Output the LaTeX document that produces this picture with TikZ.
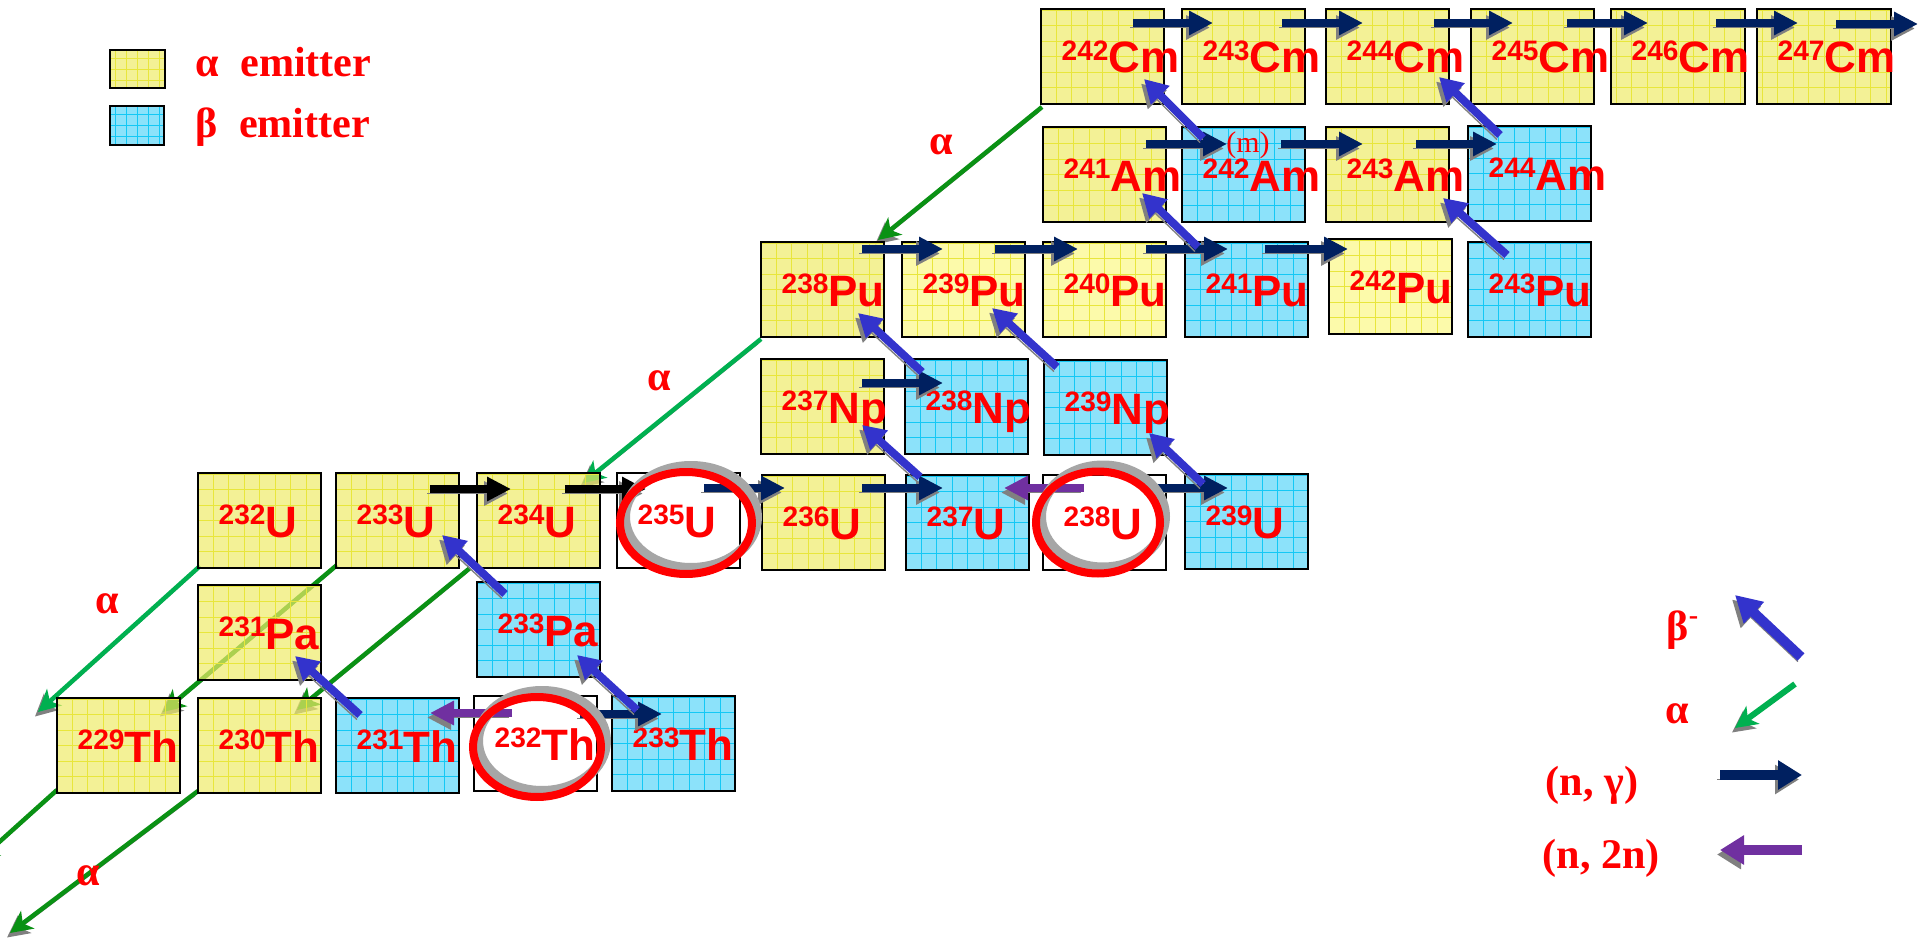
\documentclass[tikz,border=0pt]{standalone}
\usepackage{fontspec}
\setmainfont{Liberation Serif}
\newfontfamily\arialfont{Liberation Sans}
\usetikzlibrary{arrows.meta,calc,backgrounds}

\definecolor{isored}{RGB}{255,0,0}
\definecolor{yelfill}{RGB}{238,235,105}
\definecolor{lyelfill}{RGB}{251,248,134}
\definecolor{bluefill}{RGB}{91,214,248}
\definecolor{gridyel}{RGB}{232,230,60}
\definecolor{gridblue}{RGB}{20,200,245}
\definecolor{navy}{RGB}{0,32,96}
\definecolor{betablue}{RGB}{51,51,204}
\definecolor{purp}{RGB}{112,48,160}
\definecolor{lgreen}{RGB}{0,176,80}
\definecolor{dgreen}{RGB}{10,145,20}

% mass number raised in front of the element symbol
\newcommand{\nuc}[2]{\raisebox{3.6pt}{\fontsize{8}{8}\selectfont#1}#2}

\begin{document}
\begin{tikzpicture}[x=0.1mm,y=-0.1mm,
  box/.style={draw=black,line width=0.45pt,minimum width=12.3mm,minimum height=9.5mm,inner sep=0pt,outer sep=0pt,anchor=north west},
  gridded/.style 2 args={path picture={\draw[#1,line width=0.25pt] (path picture bounding box.south west) grid[step=#2] (path picture bounding box.north east);}},
  ybox/.style={box,fill=yelfill,fill opacity=0.7,gridded={gridyel}{#1}},ybox/.default=1.55mm,
  lybox/.style={box,fill=lyelfill,fill opacity=0.7,gridded={gridyel}{1.55mm}},
  bbox/.style={box,fill=bluefill,fill opacity=0.7,gridded={gridblue}{#1}},bbox/.default=1.55mm,
  wbox/.style={box,fill=white},
  iso/.style={text=isored,font=\arialfont\bfseries\fontsize{12.5}{12.5}\selectfont,inner sep=0pt,anchor=base west},
  lab/.style={text=isored,font=\bfseries\fontsize{12}{12}\selectfont,inner sep=0pt},
  shad/.style={preaction={draw=black!50,transform canvas={xshift=-0.3mm,yshift=-0.45mm}}},
  ngam/.style={shad,draw=navy,line width=0.8mm,-{Triangle[length=2.4mm,width=2.3mm]}},
  ntwo/.style={shad,draw=purp,line width=0.8mm,-{Triangle[length=2.4mm,width=2.3mm]}},
  beta/.style={shad,draw=betablue,line width=0.8mm,-{Triangle[length=2.3mm,width=2.5mm]}},
  alph/.style={shad,line width=0.45mm,-{Stealth[length=2.2mm,width=2.2mm,inset=0.6mm]}},
  ring/.style={draw=isored,line width=0.8mm,preaction={draw=black!35,line width=1mm,transform canvas={xshift=0.5mm,yshift=0.6mm}}}]
\useasboundingbox (0,0) rectangle (1925,943);

% nuclide boxes
\foreach \n/\l/\t/\m/\s in {cm242/1041/9/242/Cm,cm243/1182/9/243/Cm,cm244/1326/9/244/Cm,cm245/1471/9/245/Cm,
    am241/1043/127/241/Am,am243/1326/127/243/Am,pu238/761/242/238/Pu,np237/761/359/237/Np,
    u232/198/473/232/U,u233/336/473/233/U,u234/477/473/234/U,u236/762/475/236/U,
    pa231/198/585/231/Pa,th229/57/698/229/Th,th230/198/698/230/Th}{
  \node[ybox] (\n) at (\l,\t) {};
  \node[iso] (\n-l) at ($(\n.north west)+(20,64)$) {\nuc{\m}{\s}};
}
\foreach \n/\l/\t/\m/\s in {cm246/1611/9/246/Cm,cm247/1757/9/247/Cm}{
  \node[ybox,minimum width=13.4mm] (\n) at (\l,\t) {};
  \node[iso] (\n-l) at ($(\n.north west)+(20,64)$) {\nuc{\m}{\s}};
}
\foreach \n/\l/\t/\m/\s in {pu239/902/242/239/Pu,pu240/1043/242/240/Pu,pu242/1329/239/242/Pu}{
  \node[lybox] (\n) at (\l,\t) {};
  \node[iso] (\n-l) at ($(\n.north west)+(20,64)$) {\nuc{\m}{\s}};
}
\foreach \n/\l/\t/\m/\s in {am242/1182/127/242/Am,am244/1468/126/244/Am,pu241/1185/242/241/Pu,pu243/1468/242/243/Pu,
    np238/905/359/238/Np,np239/1044/360/239/Np,u237/906/475/237/U,u239/1185/474/239/U,
    pa233/477/582/233/Pa,th231/336/698/231/Th,th233/612/696/233/Th}{
  \node[bbox] (\n) at (\l,\t) {};
  \node[iso] (\n-l) at ($(\n.north west)+(20,64)$) {\nuc{\m}{\s}};
}
\foreach \n/\l/\t/\m/\s in {u235/617/473/235/U,u238/1043/475/238/U,th232/474/696/232/Th}{
  \node[wbox] (\n) at (\l,\t) {};
  \node[iso] (\n-l) at ($(\n.north west)+(20,64)$) {\nuc{\m}{\s}};
}

% alpha decays, behind the boxes
\coordinate (th228) at (38,712);
\coordinate (ra225) at (-23,862);
\coordinate (ra226) at (10,933);
\begin{pgfonlayer}{background}
  \draw[alph,dgreen] ($(cm242.south west)+(1,3)$) -- ($(pu238.north east)+(-6,-2)$);
  \draw[alph,lgreen] ($(pu238.south west)+(0,2)$) -- ($(u234.north east)+(-17,10)$);
  \draw[alph,lgreen] ($(u232.south west)+(2,-2)$) -- (th228);
  \draw[alph,dgreen] ($(u233.south west)+(1,-3)$) -- ($(th229.north east)+(-17,14)$);
  \draw[alph,dgreen] ($(u234.south west)+(-7,0)$) -- ($(th230.north east)+(-24,12)$);
  \draw[alph,dgreen] ($(th229.south west)+(0,-3)$) -- (ra225);
  \draw[alph,dgreen] ($(th230.south west)+(0,-2)$) -- (ra226);
\end{pgfonlayer}
\node[lab] (al1) at (941,145) {α};
\node[lab] (al2) at (659,381) {α};
\node[lab] (al3) at (107,604) {α};
\node[lab] (al4) at (88,876) {α};

% (n,gamma)
\foreach \a/\b/\sx/\ex/\dy in {cm242/cm243/-31/31/14,cm243/cm244/-23/37/14,cm244/cm245/-15/42/14,
    cm245/cm246/-27/37/14,cm246/cm247/-29/41/14,am241/am242/-20/45/17,am242/am243/-24/37/17,
    am243/am244/-33/29/17,pu238/pu239/-22/41/7,pu239/pu240/-30/35/7,pu240/pu241/-20/43/7,
    pu241/pu242/-43/19/7,np237/np238/-22/38/24,u235/u236/-36/23/15,u236/u237/-23/37/13,
    u238/u239/-20/43/13,th232/th233/-17/50/18}{
  \coordinate (s) at ($(\a.north east)+(\sx,\dy)$);
  \coordinate (e) at ($(\b.north west)+(\ex,0)$);
  \draw[ngam] (s) -- (s -| e);
}
\foreach \a/\b/\sx/\ex/\dy in {u233/u234/-29/34/16,u234/u235/-35/29/16}{
  \coordinate (s) at ($(\a.north east)+(\sx,\dy)$);
  \coordinate (e) at ($(\b.north west)+(\ex,0)$);
  \draw[ngam,draw=black] (s) -- (s -| e);
}
\coordinate (cm248) at (1918,24);
\draw[ngam] ($(cm247.north east)+(-55,15)$) -- (cm248);

% (n,2n)
\coordinate (s) at ($(u238.north west)+(41,13)$);
\coordinate (e) at ($(u237.north east)+(-25,0)$);
\draw[ntwo] (s) -- (s -| e);
\coordinate (s) at ($(th232.north west)+(38,17)$);
\coordinate (e) at ($(th231.north east)+(-29,0)$);
\draw[ntwo] (s) -- (s -| e);

% beta- decays
\foreach \a/\ax/\ay/\b/\bx/\by in {th231/24/17/pa231/-26/-24,pa233/28/12/u233/-17/-33,
    th233/25/14/pa233/-23/-22,u237/14/2/np237/-22/-29,np238/17/13/pu238/-26/-24,
    u239/18/10/np239/-18/-22,np239/13/7/pu239/-33/-29,pu241/13/5/am241/-24/-29,
    am242/21/11/cm242/-20/-25,pu243/39/13/am243/-6/-24,am244/32/9/cm244/-10/-27}
  \draw[beta] ($(\a.north west)+(\ax,\ay)$) -- ($(\b.south east)+(\bx,\by)$);

\node[text=isored,font=\fontsize{8.5}{8.5}\selectfont,inner sep=0pt] (am242m) at (1248,145) {(m)};

% fuels
\draw[ring] ($(u235.center)+(7.5,2.5)$) ellipse [x radius=6.6mm,y radius=5.1mm];
\draw[ring] ($(u238.center)+(-6.5,0)$) ellipse [x radius=6.2mm,y radius=5.1mm];
\draw[ring] ($(th232.center)+(1.5,3.5)$) ellipse [x radius=6.4mm,y radius=5.0mm];

% key, top left
\node[ybox=1.1mm,minimum width=5.5mm,minimum height=3.8mm,line width=0.7pt] (legy) at (110,50) {};
\node[bbox=1.1mm,minimum width=5.4mm,minimum height=3.9mm,line width=0.7pt] (legb) at (110,106) {};
\node[lab,anchor=base west] (legyt) at (195,77) {α\enspace emitter};
\node[lab,anchor=base west] (legbt) at (195,137) {β\enspace emitter};

% key, bottom right
\node[lab,anchor=base west] (kbeta) at (1666,640) {β\textsuperscript{-}};
\node[lab,anchor=base west] (kalpha) at (1665,723) {α};
\node[lab,anchor=base west] (kngam) at (1545,795) {(n, γ)};
\node[lab,anchor=base west] (kntwo) at (1542,868) {(n, 2n)};
\coordinate (kb1) at (1801,657); \coordinate (kb2) at (1735,595);
\coordinate (ka1) at (1795,684); \coordinate (ka2) at (1735,728);
\coordinate (kg1) at (1720,775); \coordinate (kg2) at (1802,775);
\coordinate (kn1) at (1802,850); \coordinate (kn2) at (1720,850);
\draw[beta,line width=1mm,-{Triangle[length=2.6mm,width=2.8mm]}] (kb1) -- (kb2);
\draw[alph,lgreen,line width=0.6mm] (ka1) -- (ka2);
\draw[ngam,line width=1mm,-{Triangle[length=2.4mm,width=2.8mm]}] (kg1) -- (kg2);
\draw[ntwo,line width=1mm,-{Triangle[length=2.4mm,width=2.8mm]}] (kn1) -- (kn2);
\end{tikzpicture}
\end{document}
